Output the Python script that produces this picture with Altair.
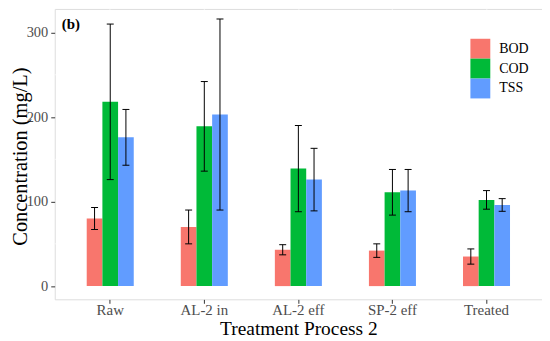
import altair as alt
import pandas as pd

categories = ["Raw", "AL-2 in", "AL-2 eff", "SP-2 eff", "Treated"]
params = ["BOD", "COD", "TSS"]
bod = [80, 70, 43, 42, 35]
bod_err = [13, 20, 6, 8, 9]
cod = [218, 189, 139, 111, 102]
cod_err = [92, 53, 51, 27, 11]
tss = [176, 203, 126, 113, 96]
tss_err = [33, 113, 37, 25, 7.5]
colors = ["#F8766D", "#00BA38", "#619CFF"]
major_ticks = [0, 100, 200, 300]
minor_grid = [50, 150, 250]
panel_label = "(b)"

rows = []
for p, vals, errs in [("BOD", bod, bod_err), ("COD", cod, cod_err), ("TSS", tss, tss_err)]:
    for c, v, e in zip(categories, vals, errs):
        rows.append({"Process": c, "Parameter": p, "value": v, "lo": v - e, "hi": v + e})
df = pd.DataFrame(rows)
grid_df = pd.DataFrame({"g": minor_grid})

FONT = "Liberation Serif"
yscale = alt.Scale(domain=[-15.6, 327.9], nice=False, zero=False)
xscale = alt.Scale(domain=categories, paddingInner=0.5, paddingOuter=0.34)
offscale = alt.Scale(domain=params, paddingInner=0, paddingOuter=0)

x_enc = alt.X(
    "Process:N", scale=xscale, sort=categories,
    axis=alt.Axis(
        title="Treatment Process 2", labelAngle=0, bandPosition=0.5,
        grid=True, gridColor="white", gridWidth=1.2,
        domain=False, tickColor="#333333", tickSize=4, labelPadding=11,
        labelBaseline="alphabetic", labelFont=FONT, labelFontSize=15,
        labelColor="#4D4D4D", titleFont=FONT, titleFontSize=19.5,
        titleFontWeight="normal", titleColor="black", titleY=35,
        titleBaseline="alphabetic",
    ),
)
y_axis = alt.Axis(
    title="Concentration (mg/L)", values=major_ticks, grid=True,
    gridColor="white", gridWidth=1.2, domain=False, tickColor="#333333",
    tickSize=4, labelPadding=3, labelFont=FONT, labelFontSize=14.5,
    labelColor="#4D4D4D", titleFont=FONT, titleFontSize=20.5,
    titleFontWeight="normal", titleColor="black", titleX=-34,
    titleY=148, titleBaseline="middle", titleAngle=-90,
)

minor = alt.Chart(grid_df).mark_rule(color="white", strokeWidth=0.6).encode(
    y=alt.Y("g:Q", scale=yscale, axis=y_axis)
)

bars = alt.Chart(df).mark_bar().encode(
    x=x_enc,
    xOffset=alt.XOffset("Parameter:N", scale=offscale, sort=params),
    y=alt.Y("value:Q", scale=yscale, axis=y_axis),
    y2=alt.datum(0),
    color=alt.Color(
        "Parameter:N", scale=alt.Scale(domain=params, range=colors),
        legend=alt.Legend(
            title=None, orient="none", legendX=412, legendY=24,
            symbolType="square", symbolSize=400, symbolStrokeWidth=0,
            symbolOpacity=1, fillColor="white", padding=6, rowPadding=0,
            labelOffset=9, labelFont=FONT, labelFontSize=14,
            labelColor="black", labelBaseline="middle",
        ),
    ),
)

err = alt.Chart(df).mark_rule(color="black", strokeWidth=1).encode(
    x=alt.X("Process:N", scale=xscale, sort=categories),
    xOffset=alt.XOffset("Parameter:N", scale=offscale, sort=params),
    y=alt.Y("lo:Q", scale=yscale),
    y2="hi:Q",
)
cap_lo = alt.Chart(df).mark_tick(color="black", thickness=1, size=7, opacity=1).encode(
    x=alt.X("Process:N", scale=xscale, sort=categories),
    xOffset=alt.XOffset("Parameter:N", scale=offscale, sort=params),
    y=alt.Y("lo:Q", scale=yscale),
)
cap_hi = alt.Chart(df).mark_tick(color="black", thickness=1, size=7, opacity=1).encode(
    x=alt.X("Process:N", scale=xscale, sort=categories),
    xOffset=alt.XOffset("Parameter:N", scale=offscale, sort=params),
    y=alt.Y("hi:Q", scale=yscale),
)

label = alt.Chart(pd.DataFrame({"t": [panel_label], "yv": [310]})).mark_text(
    font=FONT, fontSize=15, fontWeight="bold", align="left", baseline="middle",
    color="black",
).encode(x=alt.value(7), y=alt.Y("yv:Q", scale=yscale), text="t:N")

chart = alt.layer(minor, bars, err, cap_lo, cap_hi, label).properties(
    width=490, height=292,
    autosize=alt.AutoSizeParams(type="none"),
    padding={"left": 47, "top": 0, "right": 0, "bottom": 41},
).configure_view(fill="#EBEBEB", stroke=None).configure(background="white")

chart.save("out.html", embed_options={"renderer": "svg", "actions": False})
